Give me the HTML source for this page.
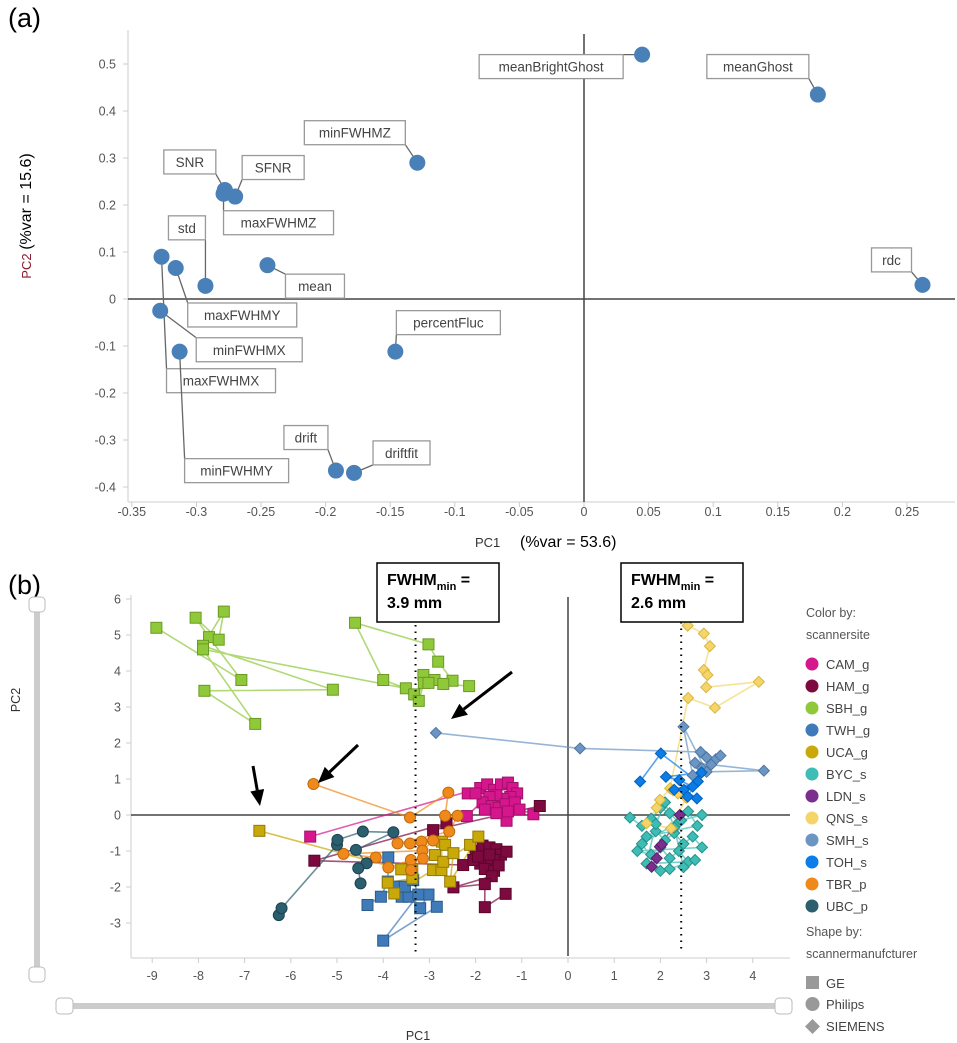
<!DOCTYPE html>
<html><head><meta charset="utf-8"><style>
html,body{margin:0;padding:0;background:#fff;}
svg{display:block;font-family:"Liberation Sans",Arial,sans-serif;}
</style></head><body>
<svg id="fig" width="957" height="1043" viewBox="0 0 957 1043" xmlns="http://www.w3.org/2000/svg">
<text x="8" y="27" font-size="27" fill="#000">(a)</text>
<text x="8" y="594" font-size="27" fill="#000">(b)</text>
<g id="pa"></g>
<g id="pb"></g>
</svg>
<script>
// ===== Panel (a) data =====
const loadNames = ["meanBrightGhost","meanGhost","minFWHMZ","SNR","SFNR","maxFWHMZ","std","mean","maxFWHMX","maxFWHMY","minFWHMX","minFWHMY","percentFluc","drift","driftfit","rdc"];
const loadPC1 = [0.045,0.181,-0.129,-0.278,-0.270,-0.279,-0.293,-0.245,-0.327,-0.316,-0.328,-0.313,-0.146,-0.192,-0.178,0.262];
const loadPC2 = [0.52,0.435,0.29,0.232,0.218,0.224,0.028,0.072,0.09,0.066,-0.025,-0.112,-0.112,-0.365,-0.37,0.03];
const aXTicks = [-0.35,-0.3,-0.25,-0.2,-0.15,-0.1,-0.05,0,0.05,0.1,0.15,0.2,0.25];
const aYTicks = [0.5,0.4,0.3,0.2,0.1,0,-0.1,-0.2,-0.3,-0.4];
// ===== Panel (b) data =====
const siteNames = ["CAM_g","HAM_g","SBH_g","TWH_g","UCA_g","BYC_s","LDN_s","QNS_s","SMH_s","TOH_s","TBR_p","UBC_p"];
const bXTicks = [-9,-8,-7,-6,-5,-4,-3,-2,-1,0,1,2,3,4];
const bYTicks = [6,5,4,3,2,1,0,-1,-2,-3];
const CAM_x = [-5.58,-1.9,-1.75,-1.6,-2.19,-1.45,-1.3,-1.2,-1.1,-1.25,-2.17,-1.4,-1.55,-1.7,-1.85,-1.65,-1.5,-1.35,-1.15,-1.05,-1.33,-1.3,-1.55,-1.8,-2.0,-0.75];
const CAM_y = [-0.6,0.75,0.85,0.7,-0.03,0.85,0.9,0.75,0.6,0.5,0.6,0.45,0.55,0.5,0.35,0.25,0.2,0.3,0.35,0.15,-0.16,0.1,0.05,0.15,0.6,0.02];
const HAM_x = [-0.61,-2.92,-2.63,-5.49,-2.27,-2.0,-1.85,-1.7,-1.55,-1.45,-1.6,-1.75,-1.9,-2.05,-1.8,-1.6,-1.5,-1.33,-1.7,-1.95,-1.65,-2.48,-1.8,-1.8,-1.35];
const HAM_y = [0.25,-0.42,-0.23,-1.27,-1.39,-1.0,-0.85,-0.9,-0.95,-1.1,-1.25,-1.3,-1.35,-1.25,-1.5,-1.55,-1.4,-1.02,-1.1,-1.15,-1.7,-2.01,-1.92,-2.56,-2.19];
const SBH_x = [-8.91,-7.07,-7.77,-8.06,-7.56,-7.45,-7.9,-5.09,-7.87,-6.77,-7.9,-3.51,-4.0,-4.61,-3.02,-2.81,-2.5,-3.13,-2.89,-3.33,-3.23,-3.12,-3.02,-2.7,-2.14];
const SBH_y = [5.2,3.75,4.94,5.48,4.87,5.65,4.7,3.48,3.45,2.53,4.6,3.52,3.75,5.34,4.74,4.26,3.73,3.89,3.75,3.35,3.17,3.67,3.67,3.64,3.58];
const TWH_x = [-3.89,-3.9,-4.05,-4.34,-3.72,-3.6,-3.45,-3.53,-3.2,-3.02,-2.84,-4.0,-3.24,-3.35];
const TWH_y = [-1.18,-1.85,-2.27,-2.5,-1.99,-2.27,-2.27,-1.99,-2.59,-2.21,-2.55,-3.49,-2.21,-1.81];
const UCA_x = [-6.68,-3.61,-3.37,-3.37,-3.9,-3.76,-2.92,-2.74,-2.73,-2.66,-2.88,-2.7,-2.12,-1.94,-2.55,-2.48];
const UCA_y = [-0.44,-1.51,-1.51,-1.76,-1.88,-2.18,-1.53,-1.53,-0.74,-0.83,-1.11,-1.3,-0.83,-0.6,-1.85,-1.06];
const BYC_x = [1.34,1.6,1.8,2.0,2.2,2.4,2.6,2.8,1.7,1.9,2.1,2.3,2.5,2.7,2.9,1.5,1.8,2.0,2.2,2.4,2.6,1.7,1.9,2.1,2.3,2.5,2.75,2.2,2.0,1.6,2.45,2.9];
const BYC_y = [-0.07,-0.3,-0.1,0.2,0.05,-0.2,0.1,-0.3,-0.6,-0.45,-0.7,-0.5,-0.8,-0.6,-0.9,-1.0,-1.1,-0.9,-1.2,-1.0,-1.3,-1.35,-0.25,0.35,-0.35,-1.45,-1.25,-1.5,-1.55,-0.8,-0.15,0.0];
const LDN_x = [1.81,1.92,1.99,2.03,2.42];
const LDN_y = [-1.44,-1.2,-0.88,-0.82,0.0];
const QNS_x = [2.59,2.94,3.07,2.94,3.02,2.99,4.13,3.18,2.6,2.21,1.99,1.92,1.7,2.23,2.56,2.38,2.27];
const QNS_y = [5.26,5.04,4.69,4.03,3.89,3.55,3.7,2.98,3.25,0.74,0.42,0.2,-0.23,-0.37,0.48,0.6,0.69];
const SMH_x = [-2.86,0.26,2.87,3.0,3.2,3.3,3.1,2.9,2.75,4.24,3.0,2.5,2.7];
const SMH_y = [2.28,1.85,1.75,1.6,1.55,1.65,1.4,1.3,1.45,1.23,1.2,2.45,1.1];
const TOH_x = [1.56,2.01,2.81,2.3,2.51,2.79,2.59,2.89,2.12,2.41,2.7];
const TOH_y = [0.93,1.71,0.93,0.7,0.7,0.46,0.51,1.18,1.06,0.97,0.79];
const TBR_x = [-5.51,-3.42,-2.59,-2.66,-2.39,-2.57,-3.69,-3.42,-3.17,-2.92,-3.15,-4.86,-4.16,-3.89,-3.4,-3.14,-3.4];
const TBR_y = [0.86,-0.07,0.62,-0.02,-0.02,-0.46,-0.79,-0.79,-0.74,-0.71,-0.99,-1.08,-1.18,-1.46,-1.25,-1.21,-1.53];
const UBC_x = [-6.26,-6.2,-5.0,-4.99,-4.44,-3.78,-4.59,-4.36,-4.54,-4.49];
const UBC_y = [-2.78,-2.59,-0.83,-0.69,-0.46,-0.48,-0.97,-1.34,-1.48,-1.9];

const siteX = [CAM_x,HAM_x,SBH_x,TWH_x,UCA_x,BYC_x,LDN_x,QNS_x,SMH_x,TOH_x,TBR_x,UBC_x];
const siteY = [CAM_y,HAM_y,SBH_y,TWH_y,UCA_y,BYC_y,LDN_y,QNS_y,SMH_y,TOH_y,TBR_y,UBC_y];

const NS="http://www.w3.org/2000/svg";
function mk(tag, attrs, parent){const e=document.createElementNS(NS,tag);for(const k in attrs)e.setAttribute(k,attrs[k]);parent.appendChild(e);return e;}

// ---------- Panel (a) ----------
const pa=document.getElementById('pa');
const xa=v=>584+v*1292, ya=v=>299-v*470;
let e;
e=mk('line',{x1:128,y1:30,x2:128,y2:502,stroke:'#ddd','stroke-width':1.5},pa);


e=mk('line',{x1:128,y1:502,x2:955,y2:502,stroke:'#ddd','stroke-width':1.5},pa);


aXTicks.forEach(t=>{
  const x=xa(t);
  e=mk('line',{x1:x,y1:502,x2:x,y2:507,stroke:'#ccc'},pa);
  
  
  e=mk('text',{x:x,y:516,'font-size':12.5,fill:'#555','text-anchor':'middle'},pa);
  e.textContent=String(t);
  
  
});
aYTicks.forEach(t=>{
  const y=ya(t);
  e=mk('line',{x1:123,y1:y,x2:128,y2:y,stroke:'#ccc'},pa);
  
  
  e=mk('text',{x:116,y:y+4.5,'font-size':12.5,fill:'#555','text-anchor':'end'},pa);
  e.textContent=String(t);
  
  
});
e=mk('line',{x1:128,y1:ya(0),x2:955,y2:ya(0),stroke:'#444','stroke-width':1.5},pa);


e=mk('line',{x1:xa(0),y1:34,x2:xa(0),y2:502,stroke:'#444','stroke-width':1.5},pa);


// axis titles
e=mk('text',{x:475,y:547,'font-size':13,fill:'#333'},pa);
e.textContent='PC1';


e=mk('text',{x:520,y:547,'font-size':16,fill:'#000'},pa);
e.textContent='(%var = 53.6)';


e=mk('text',{x:0,y:0,'font-size':16,fill:'#000',transform:'translate(31,216) rotate(-90)','text-anchor':'middle'},pa);


const ts1=mk('tspan',{'font-size':13,fill:'#8b1a2b'},e);ts1.textContent='PC2 ';
const ts2=mk('tspan',{},e);ts2.textContent='(%var = 15.6)';
// label box offsets (layout, relative to dot)
const boxDX=[-163,-111,-113,-61,7,0,-37,18,5,12,36,5,1,-52,19,-51];
const boxDY=[0,-40,-42,-40,-41,17,-70,9,112,35,27,107,-41,-45,-32,-37];
const boxW=[144,102,101,52,62,110,37,59,109,109,106,104,104,44,57,40];
loadNames.forEach((n,i)=>{
  const cx=xa(loadPC1[i]), cy=ya(loadPC2[i]);
  const bx=cx+boxDX[i], by=cy+boxDY[i], bw=boxW[i], bh=24;
  const px=Math.max(bx,Math.min(bx+bw,cx)), py=Math.max(by,Math.min(by+bh,cy));
  e=mk('line',{x1:cx,y1:cy,x2:px,y2:py,stroke:'#666','stroke-width':1.3},pa);
  
  
  e=mk('rect',{x:bx,y:by,width:bw,height:bh,fill:'#fff',stroke:'#999','stroke-width':1.3},pa);
  
  
  e=mk('text',{x:bx+bw/2,y:by+17,'font-size':13.5,fill:'#444','text-anchor':'middle'},pa);
  e.textContent=n;
  
  
  e=mk('circle',{cx:cx,cy:cy,r:8,fill:'#4a80b8'},pa);
  
  
});

// ---------- Panel (b) ----------
const pb=document.getElementById('pb');
const xb=v=>568+v*46.2, yb=v=>815-v*36;
const siteColors=['#d6168c','#7d0a3f','#8fc93a','#3f7bb8','#c9a80a','#3dbdb5','#7b2e8e','#f5d56a','#6b96c4','#0a7de8','#ef8a1a','#2c5f6e'];
const siteStroke=['#a0106a','#5a052c','#6a9a25','#2c5a8a','#947a05','#2a9088','#5a1f68','#d9b640','#4d76a3','#0660b5','#c06a10','#1c4150'];
const siteShape=['s','s','s','s','s','d','d','d','d','d','c','c'];
e=mk('line',{x1:131,y1:595,x2:131,y2:958,stroke:'#ddd','stroke-width':1.5},pb);


e=mk('line',{x1:131,y1:958,x2:790,y2:958,stroke:'#ddd','stroke-width':1.5},pb);


bXTicks.forEach(t=>{
  const x=xb(t);
  e=mk('line',{x1:x,y1:958,x2:x,y2:963,stroke:'#ccc'},pb);
  
  
  e=mk('text',{x:x,y:980,'font-size':12.5,fill:'#555','text-anchor':'middle'},pb);
  e.textContent=String(t);
  
  
});
bYTicks.forEach(t=>{
  const y=yb(t);
  e=mk('line',{x1:126,y1:y,x2:131,y2:y,stroke:'#ccc'},pb);
  
  
  e=mk('text',{x:121,y:y+4.5,'font-size':12.5,fill:'#555','text-anchor':'end'},pb);
  e.textContent=String(t);
  
  
});
e=mk('line',{x1:131,y1:yb(0),x2:790,y2:yb(0),stroke:'#444','stroke-width':1.5},pb);


e=mk('line',{x1:xb(0),y1:597,x2:xb(0),y2:956,stroke:'#444','stroke-width':1.5},pb);


// series
siteNames.forEach((n,i)=>{
  const xs=siteX[i], ys=siteY[i];
  const pts=xs.map((v,k)=>xb(v).toFixed(1)+','+yb(ys[k]).toFixed(1)).join(' ');
  e=mk('polyline',{points:pts,fill:'none',stroke:siteColors[i],'stroke-width':1.6,'stroke-opacity':0.7},pb);
  
  
});
siteNames.forEach((n,i)=>{
  const xs=siteX[i], ys=siteY[i];
  xs.forEach((v,k)=>{
    const x=xb(v), y=yb(ys[k]);
    let m;
    if(siteShape[i]==='s') m=mk('rect',{x:x-5.5,y:y-5.5,width:11,height:11,fill:siteColors[i],stroke:siteStroke[i],'stroke-width':1},pb);
    else if(siteShape[i]==='c') m=mk('circle',{cx:x,cy:y,r:5.5,fill:siteColors[i],stroke:siteStroke[i],'stroke-width':1},pb);
    else m=mk('polygon',{points:`${x},${y-5.5} ${x+5.5},${y} ${x},${y+5.5} ${x-5.5},${y}`,fill:siteColors[i],stroke:siteStroke[i],'stroke-width':1},pb);
    
    
  });
});
// dotted lines
e=mk('line',{x1:xb(-3.3),y1:625,x2:xb(-3.3),y2:952,stroke:'#000','stroke-width':2,'stroke-dasharray':'1.5 5'},pb);


e=mk('line',{x1:xb(2.45),y1:622,x2:xb(2.45),y2:950,stroke:'#000','stroke-width':2,'stroke-dasharray':'1.5 5'},pb);


// annotation boxes
function annot(x,val,name){
  const g=mk('g',{},pb);
  
  
  mk('rect',{x:x,y:563,width:122,height:59,fill:'#fff',stroke:'#000','stroke-width':1.5},g);
  const t=mk('text',{x:x+10,y:585,'font-size':16,'font-weight':'bold',fill:'#000'},g);
  const a=mk('tspan',{},t);a.textContent='FWHM';
  const b=mk('tspan',{'font-size':11,dy:5},t);b.textContent='min';
  const c=mk('tspan',{dy:-5},t);c.textContent=' =';
  const t2=mk('text',{x:x+10,y:608,'font-size':16,'font-weight':'bold',fill:'#000'},g);
  t2.textContent=val;
}
annot(377,'3.9 mm','fwhm-3.9-box');
annot(621,'2.6 mm','fwhm-2.6-box');
// arrows
const arrows=[[512,672,451,719],[358,745,318,783],[253,766,260,806]];
arrows.forEach((a,i)=>{
  const [x1,y1,x2,y2]=a;const dx=x2-x1,dy=y2-y1,L=Math.hypot(dx,dy),ux=dx/L,uy=dy/L;
  const bx=x2-ux*16,by=y2-uy*16;
  e=mk('line',{x1:x1,y1:y1,x2:bx,y2:by,stroke:'#000','stroke-width':3},pb);
  
  
  e=mk('polygon',{points:`${x2},${y2} ${bx-uy*7},${by+ux*7} ${bx+uy*7},${by-ux*7}`,fill:'#000'},pb);
  
  
});
// axis titles
e=mk('text',{x:418,y:1040,'font-size':12.5,fill:'#333','text-anchor':'middle'},pb);
e.textContent='PC1';


e=mk('text',{x:0,y:0,'font-size':12.5,fill:'#333','text-anchor':'middle',transform:'translate(20,700) rotate(-90)'},pb);
e.textContent='PC2';


// sliders
e=mk('rect',{x:34,y:605,width:6,height:370,fill:'#ccc'},pb);


e=mk('rect',{x:29,y:597,width:16,height:15,rx:4,fill:'#fff',stroke:'#bbb'},pb);


e=mk('rect',{x:29,y:967,width:16,height:15,rx:4,fill:'#fff',stroke:'#bbb'},pb);


e=mk('rect',{x:64,y:1003,width:720,height:6,fill:'#ccc'},pb);


e=mk('rect',{x:56,y:998,width:17,height:16,rx:4,fill:'#fff',stroke:'#bbb'},pb);


e=mk('rect',{x:775,y:998,width:17,height:16,rx:4,fill:'#fff',stroke:'#bbb'},pb);


// legend
const lg=mk('g',{},pb);


e=mk('text',{x:806,y:617,'font-size':12.5,fill:'#555'},lg);e.textContent='Color by:';


e=mk('text',{x:806,y:639,'font-size':12.5,fill:'#555'},lg);e.textContent='scannersite';


siteNames.forEach((n,i)=>{
  const y=664+i*22;
  e=mk('circle',{cx:812,cy:y,r:6.5,fill:siteColors[i]},lg);
  
  
  e=mk('text',{x:826,y:y+5,'font-size':13,fill:'#444'},lg);e.textContent=n;
  
  
});
e=mk('text',{x:806,y:936,'font-size':12.5,fill:'#555'},lg);e.textContent='Shape by:';


e=mk('text',{x:806,y:958,'font-size':12.5,fill:'#555'},lg);e.textContent='scannermanufcturer';


e=mk('rect',{x:806,y:976,width:13,height:13,fill:'#999'},lg);


e=mk('text',{x:826,y:988,'font-size':13,fill:'#444'},lg);e.textContent='GE';


e=mk('circle',{cx:812.5,cy:1004,r:7,fill:'#999'},lg);


e=mk('text',{x:826,y:1009,'font-size':13,fill:'#444'},lg);e.textContent='Philips';


e=mk('polygon',{points:'812.5,1019 820,1026.5 812.5,1034 805,1026.5',fill:'#999'},lg);


e=mk('text',{x:826,y:1031,'font-size':13,fill:'#444'},lg);e.textContent='SIEMENS';


</script>
</body></html>
